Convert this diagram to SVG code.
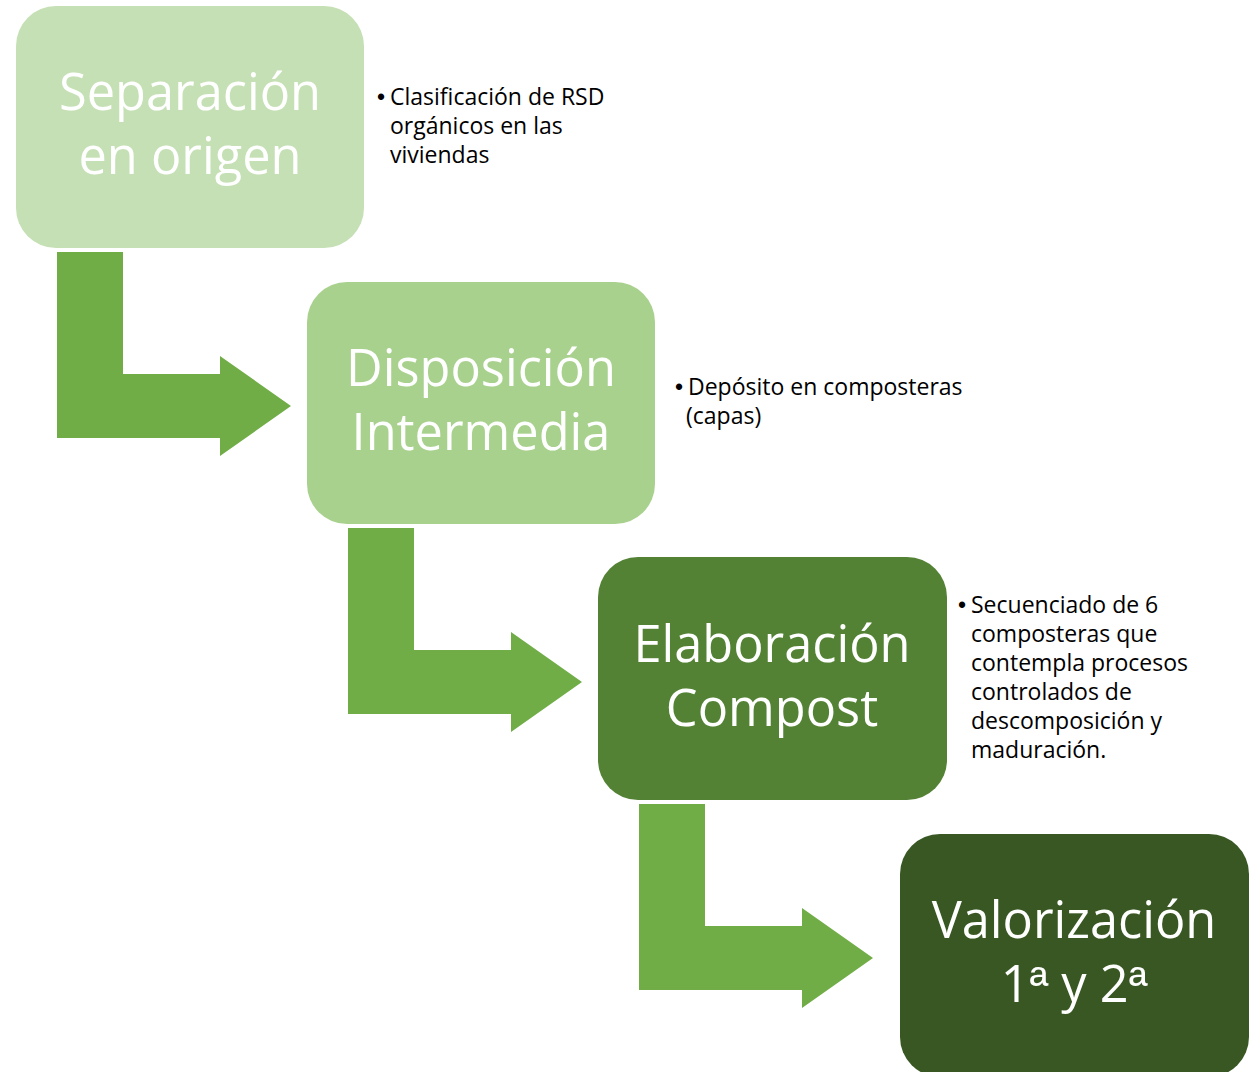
<svg xmlns="http://www.w3.org/2000/svg" width="1253" height="1072" viewBox="0 0 1253 1072">
<style>
.title{font-family:"Open Sans","Noto Sans","DejaVu Sans",sans-serif;font-size:50.5px;fill:#ffffff;text-anchor:middle}
.note{font-family:"Open Sans","Noto Sans","DejaVu Sans",sans-serif;font-size:23px;fill:#000000}
.bul{font-family:"Liberation Sans","DejaVu Sans",sans-serif}
.ord{font-family:"Liberation Sans","DejaVu Sans",sans-serif}
.arrow{fill:#70AD47}
</style>
<rect width="1253" height="1072" fill="#ffffff"/>
<g id="connectors">
<polygon class="arrow" points="57,252 123,252 123,374 220,374 220,356 291,406 220,456 220,438 57,438"/>
<polygon class="arrow" points="348,528 414,528 414,650 511,650 511,632 582,682 511,732 511,714 348,714"/>
<polygon class="arrow" points="639,804 705,804 705,926 802,926 802,908 873,958 802,1008 802,990 639,990"/>
</g>
<g id="node1">
<rect x="16" y="6" width="348" height="242" rx="40" fill="#C5E0B4"/>
<text class="title" x="190" y="110">Separación</text>
<text class="title" x="190" y="174">en origen</text>
</g>
<g id="note1">
<text class="note" x="377" y="105"><tspan class="bul">•</tspan><tspan x="390">Clasificación de RSD</tspan></text>
<text class="note" x="390" y="134">orgánicos en las</text>
<text class="note" x="390" y="163">viviendas</text>
</g>
<g id="node2">
<rect x="307" y="282" width="348" height="242" rx="40" fill="#A9D18E"/>
<text class="title" x="481" y="386">Disposición</text>
<text class="title" x="481" y="450">Intermedia</text>
</g>
<g id="note2">
<text class="note" x="675" y="395"><tspan class="bul">•</tspan><tspan x="688">Depósito en composteras</tspan></text>
<text class="note" x="686" y="424">(capas)</text>
</g>
<g id="node3">
<rect x="598" y="557" width="349" height="243" rx="40" fill="#548235"/>
<text class="title" x="772" y="662">Elaboración</text>
<text class="title" x="772" y="726">Compost</text>
</g>
<g id="note3">
<text class="note" x="958" y="613"><tspan class="bul">•</tspan><tspan x="971">Secuenciado de 6</tspan></text>
<text class="note" x="971" y="642">composteras que</text>
<text class="note" x="971" y="671">contempla procesos</text>
<text class="note" x="971" y="700">controlados de</text>
<text class="note" x="971" y="729">descomposición y</text>
<text class="note" x="971" y="758">maduración.</text>
</g>
<g id="node4">
<rect x="900" y="834" width="349" height="243" rx="40" fill="#385723"/>
<text class="title" x="1074" y="938">Valorización</text>
<text class="title" x="1074" y="1002">1<tspan class="ord">ª</tspan> y 2<tspan class="ord">ª</tspan></text>
</g>
</svg>
